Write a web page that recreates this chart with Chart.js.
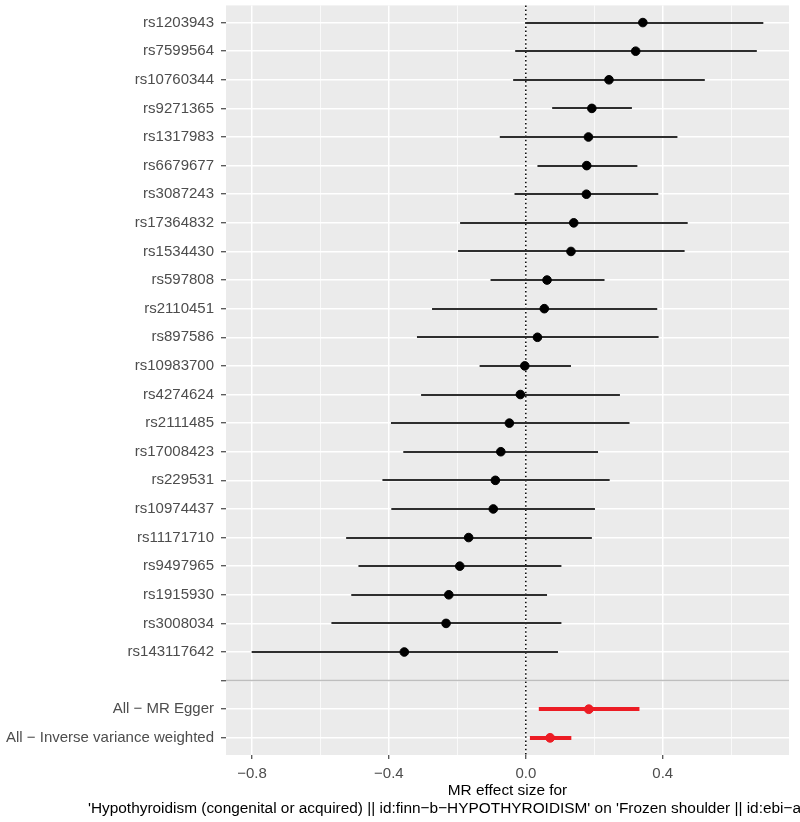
<!DOCTYPE html>
<html>
<head>
<meta charset="utf-8">
<title>MR forest plot</title>
<script src="https://cdn.jsdelivr.net/npm/chart.js@4.4.1/dist/chart.umd.min.js"></script>
<style>
  html, body { margin: 0; padding: 0; background: #fff; }
  #wrap { width: 800px; height: 822px; }
</style>
</head>
<body>
<div id="wrap"><canvas id="forest" width="800" height="822"></canvas></div>
<script>
// SNP rows, top to bottom
const snpLabels = ['rs1203943', 'rs7599564', 'rs10760344', 'rs9271365', 'rs1317983', 'rs6679677',
  'rs3087243', 'rs17364832', 'rs1534430', 'rs597808', 'rs2110451', 'rs897586', 'rs10983700',
  'rs4274624', 'rs2111485', 'rs17008423', 'rs229531', 'rs10974437', 'rs11171710', 'rs9497965',
  'rs1915930', 'rs3008034', 'rs143117642'];
const snpB  = [0.342, 0.321, 0.243, 0.193, 0.183, 0.178, 0.177, 0.140, 0.132, 0.062, 0.054, 0.034,
  -0.003, -0.016, -0.048, -0.073, -0.089, -0.095, -0.167, -0.193, -0.225, -0.233, -0.355];
const snpLo = [-0.001, -0.031, -0.037, 0.077, -0.076, 0.034, -0.033, -0.192, -0.198, -0.103, -0.274, -0.318,
  -0.135, -0.306, -0.394, -0.358, -0.419, -0.393, -0.525, -0.489, -0.510, -0.568, -0.801];
const snpHi = [0.694, 0.675, 0.523, 0.310, 0.443, 0.326, 0.387, 0.473, 0.464, 0.230, 0.384, 0.388,
  0.132, 0.275, 0.303, 0.211, 0.245, 0.202, 0.193, 0.104, 0.062, 0.104, 0.094];

// summary rows under the blank separator row
const methodLabels = ['All \u2212 MR Egger', 'All \u2212 Inverse variance weighted'];
const methodB  = [0.184, 0.071];
const methodLo = [0.038, 0.012];
const methodHi = [0.332, 0.133];

// x axis ticks
const xTicks = [-0.8, -0.6, -0.4, -0.2, 0.0, 0.2, 0.4, 0.6];

const xTitle1 = 'MR effect size for';
const xTitle2 = "'Hypothyroidism (congenital or acquired) || id:finn\u2212b\u2212HYPOTHYROIDISM' on 'Frozen shoulder || id:ebi\u2212a";

const rowLabels = snpLabels.concat([''], methodLabels);
const sepRow = snpLabels.length + 1;
const FONT = "'Liberation Sans', Arial, Helvetica, sans-serif";

const snpPoints = snpB.map((b, i) => ({ x: b, y: i + 1, lo: snpLo[i], hi: snpHi[i] }));
const methodPoints = methodB.map((b, i) => ({ x: b, y: sepRow + 1 + i, lo: methodLo[i], hi: methodHi[i] }));

const isMajor = v => Math.abs(Math.round(v * 10)) % 4 === 0;
const fmt = v => (v < 0 ? '\u2212' : '') + Math.abs(v).toFixed(1);

// grey panel behind the grid
const panelBg = {
  id: 'panelBg',
  beforeDraw(chart) {
    const a = chart.chartArea, ctx = chart.ctx;
    ctx.save();
    ctx.fillStyle = '#EBEBEB';
    ctx.fillRect(a.left, a.top, a.right - a.left, a.bottom - a.top);
    ctx.restore();
  }
};

// zero line + horizontal error bars, then separator line
const forestMarks = {
  id: 'forestMarks',
  beforeDatasetsDraw(chart) {
    const ctx = chart.ctx, xs = chart.scales.x, ys = chart.scales.y, a = chart.chartArea;
    ctx.save();
    const x0 = xs.getPixelForValue(0);
    ctx.strokeStyle = '#000';
    ctx.lineWidth = 1.5;
    ctx.setLineDash([1.5, 2.7]);
    ctx.beginPath();
    ctx.moveTo(x0, a.top);
    ctx.lineTo(x0, a.bottom);
    ctx.stroke();
    ctx.setLineDash([]);

    chart.data.datasets.forEach(ds => {
      ctx.strokeStyle = ds.barColor;
      ctx.lineWidth = ds.barWidth;
      ds.data.forEach(p => {
        const y = Math.round(ys.getPixelForValue(p.y));
        ctx.beginPath();
        ctx.moveTo(xs.getPixelForValue(p.lo), y);
        ctx.lineTo(xs.getPixelForValue(p.hi), y);
        ctx.stroke();
      });
    });
    ctx.restore();
  },
  afterDatasetsDraw(chart) {
    const ctx = chart.ctx, ys = chart.scales.y, a = chart.chartArea;
    const y = ys.getPixelForValue(sepRow);
    ctx.save();
    ctx.strokeStyle = '#BEBEBE';
    ctx.lineWidth = 1.5;
    ctx.beginPath();
    ctx.moveTo(a.left, y);
    ctx.lineTo(a.right, y);
    ctx.stroke();
    ctx.restore();
  }
};

// two-line x axis title, second line runs off the right edge
const xTitle = {
  id: 'xTitle',
  afterDraw(chart) {
    const ctx = chart.ctx, a = chart.chartArea;
    ctx.save();
    ctx.fillStyle = '#000';
    ctx.font = '15.4px ' + FONT;
    ctx.textBaseline = 'middle';
    ctx.textAlign = 'center';
    ctx.fillText(xTitle1, (a.left + a.right) / 2, 791);
    ctx.textAlign = 'left';
    ctx.fillText(xTitle2, 88, 809);
    ctx.restore();
  }
};

new Chart(document.getElementById('forest'), {
  type: 'scatter',
  data: {
    datasets: [
      {
        data: snpPoints,
        backgroundColor: '#000',
        borderColor: '#000',
        pointRadius: 4.3,
        pointHoverRadius: 4.3,
        barColor: '#2E2E2E',
        barWidth: 2
      },
      {
        data: methodPoints,
        backgroundColor: '#EC1C24',
        borderColor: '#EC1C24',
        pointRadius: 4.4,
        pointHoverRadius: 4.4,
        barColor: '#EC1C24',
        barWidth: 4.2
      }
    ]
  },
  options: {
    responsive: false,
    animation: false,
    devicePixelRatio: 1,
    layout: { padding: { top: 4, right: 11, left: 0, bottom: 0 } },
    plugins: {
      legend: { display: false },
      tooltip: { enabled: false },
      title: { display: false }
    },
    scales: {
      x: {
        type: 'linear',
        min: -0.876,
        max: 0.769,
        afterBuildTicks: s => { s.ticks = xTicks.map(v => ({ value: v })); },
        afterFit: s => { s.height = 67; s.paddingLeft = 0; s.paddingRight = 0; },
        border: { display: false },
        grid: {
          color: '#FFFFFF',
          lineWidth: c => (c.tick && isMajor(c.tick.value) ? 1.5 : 0.7),
          tickColor: c => (c.tick && isMajor(c.tick.value) ? '#333333' : 'rgba(0,0,0,0)'),
          tickLength: 4,
          tickWidth: 1.1
        },
        ticks: {
          autoSkip: false,
          maxRotation: 0,
          padding: 6,
          color: '#4D4D4D',
          font: { family: FONT, size: 15 },
          callback: v => (isMajor(v) ? fmt(v) : '')
        }
      },
      y: {
        type: 'linear',
        reverse: true,
        min: 0.4,
        max: rowLabels.length + 0.6,
        afterBuildTicks: s => { s.ticks = rowLabels.map((l, i) => ({ value: i + 1 })); },
        afterFit: s => { s.width = 226; s.paddingTop = 0; s.paddingBottom = 0; },
        border: { display: false },
        grid: {
          color: '#FFFFFF',
          lineWidth: 1.5,
          tickColor: '#333333',
          tickLength: 5,
          tickWidth: 1.1
        },
        ticks: {
          autoSkip: false,
          padding: 7,
          color: '#4D4D4D',
          font: { family: FONT, size: 15 },
          callback: v => rowLabels[Math.round(v) - 1]
        }
      }
    }
  },
  plugins: [panelBg, forestMarks, xTitle]
});
</script>
</body>
</html>
